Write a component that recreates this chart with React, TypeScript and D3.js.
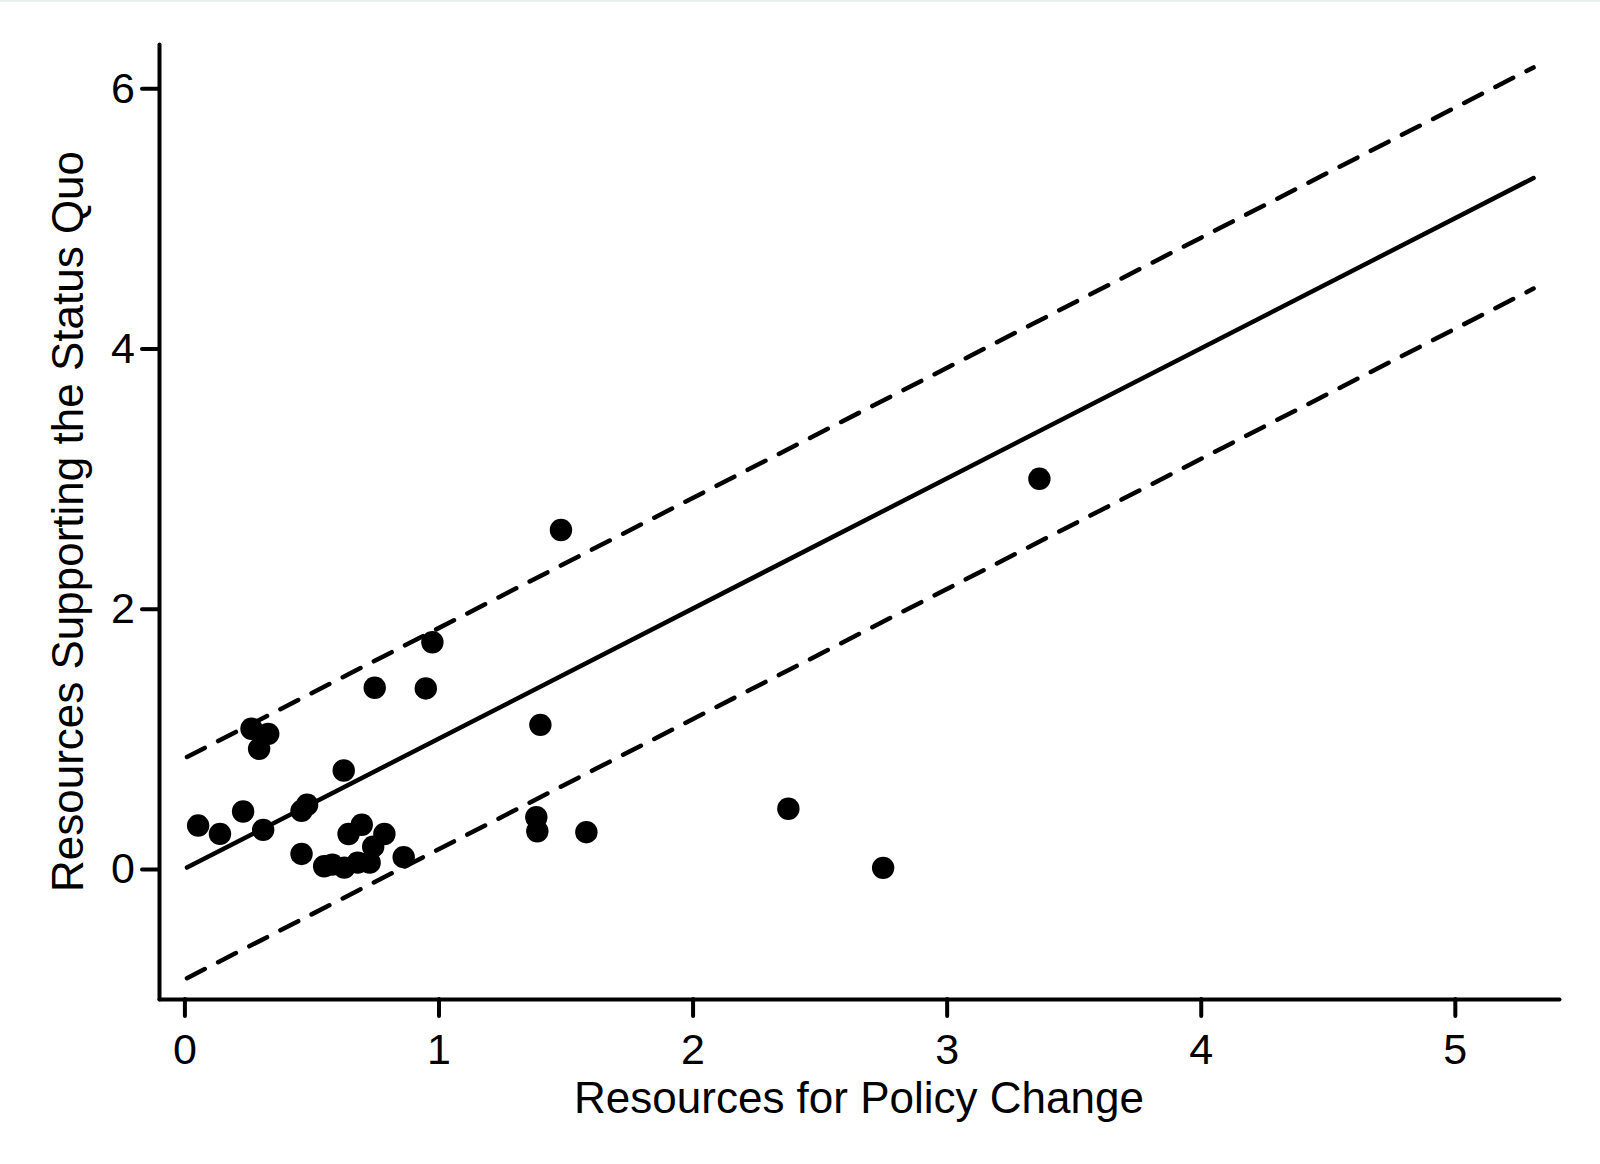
import React, { useRef, useEffect } from 'react';
import * as d3 from 'd3';

// resources for policy change (x) and supporting the status quo (y)
const policyChange = [
  0.054, 0.140, 0.231, 0.264, 0.330, 0.294, 0.310, 0.461, 0.483, 0.461,
  0.550, 0.582, 0.629, 0.682, 0.729, 0.743, 0.646, 0.698, 0.787, 0.863,
  0.627, 0.749, 0.950, 0.976, 1.401, 1.482, 1.385, 1.389, 1.582, 2.377,
  2.750, 3.365,
];
const statusQuo = [
  0.333, 0.269, 0.441, 1.077, 1.038, 0.923, 0.300, 0.446, 0.493, 0.115,
  0.020, 0.033, 0.010, 0.048, 0.048, 0.171, 0.268, 0.339, 0.268, 0.090,
  0.756, 1.392, 1.387, 1.742, 1.107, 2.605, 0.397, 0.289, 0.282, 0.462,
  0.008, 2.998,
];

// fitted line y = x with a band of +/- 0.85
const lineRange = [0.01, 5.31];
const bandOffset = 0.85;

const xTicks = [0, 1, 2, 3, 4, 5];
const yTicks = [0, 2, 4, 6];

const font = '"Liberation Sans", Arial, sans-serif';

const App = () => {
  const svgRef = useRef<SVGSVGElement>(null);

  useEffect(() => {
    document.body.style.margin = '0';
    const svg = d3.select(svgRef.current);
    svg.selectAll('*').remove();

    const x = d3.scaleLinear().domain([-0.1, 5.41]).range([159, 1559]);
    const y = d3.scaleLinear().domain([-1, 6.34]).range([999, 44]);

    // faint border at the top of the image
    svg.append('line')
      .attr('x1', 0).attr('x2', 1600).attr('y1', 1).attr('y2', 1)
      .attr('stroke', '#e9efef').attr('stroke-width', 2);

    const bands = [
      { off: 0, dash: null },
      { off: bandOffset, dash: '20 15' },
      { off: -bandOffset, dash: '20 15' },
    ];

    svg.append('g')
      .selectAll('path')
      .data(bands)
      .enter().append('path')
      .attr('d', b => d3.line<number>().x(d => x(d)).y(d => y(d + b.off))(lineRange))
      .attr('fill', 'none')
      .attr('stroke', '#000')
      .attr('stroke-width', 4.5)
      .attr('stroke-linecap', 'round')
      .attr('stroke-dasharray', b => b.dash);

    svg.append('g')
      .selectAll('circle')
      .data(policyChange.map((v, i) => [v, statusQuo[i]]))
      .enter().append('circle')
      .attr('cx', d => x(d[0]))
      .attr('cy', d => y(d[1]))
      .attr('r', 11.2)
      .attr('fill', '#000');

    const xAxis = svg.append('g')
      .attr('transform', `translate(0,${y(-1)})`)
      .call(d3.axisBottom(x).tickValues(xTicks).tickFormat(d3.format('d')).tickSize(17).tickSizeOuter(0).tickPadding(17));

    const yAxis = svg.append('g')
      .attr('transform', `translate(${x(-0.1)},0)`)
      .call(d3.axisLeft(y).tickValues(yTicks).tickFormat(d3.format('d')).tickSize(17).tickSizeOuter(0).tickPadding(7));

    [xAxis, yAxis].forEach(g => {
      g.select('.domain').attr('stroke-width', 4).attr('stroke-linecap', 'round');
      g.selectAll('.tick line').attr('stroke-width', 4).attr('stroke-linecap', 'round');
      g.selectAll('.tick text')
        .attr('font-family', font)
        .attr('font-size', 43)
        .attr('fill', '#000');
    });

    svg.append('text')
      .attr('x', (x(-0.1) + x(5.41)) / 2)
      .attr('y', 1113)
      .attr('text-anchor', 'middle')
      .attr('font-family', font)
      .attr('font-size', 44)
      .text('Resources for Policy Change');

    svg.append('text')
      .attr('transform', `translate(83,${(y(-1) + y(6.34)) / 2}) rotate(-90)`)
      .attr('text-anchor', 'middle')
      .attr('font-family', font)
      .attr('font-size', 44)
      .text('Resources Supporting the Status Quo');
  }, []);

  return (
    <svg ref={svgRef} width="1600" height="1164" style={{ display: 'block', background: '#fff' }}></svg>
  );
};

export default App;
